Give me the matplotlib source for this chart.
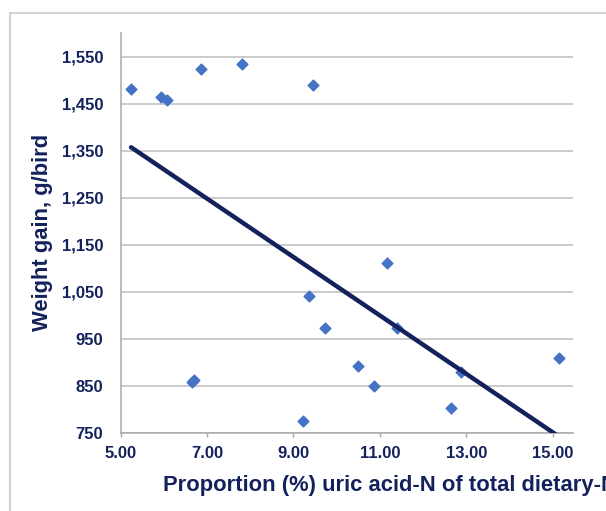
import numpy as np
import matplotlib
matplotlib.use("Agg")
import matplotlib.pyplot as plt
from matplotlib.patches import Rectangle

uric_pct = [5.24, 5.93, 6.08, 6.86, 7.81, 9.46, 11.16, 9.37, 9.73, 11.40,
            10.50, 10.87, 12.88, 12.64, 15.15, 6.64, 6.70, 9.22]
weight_gain = [1481, 1464, 1457, 1523, 1535, 1489, 1110, 1040, 973, 972,
               892, 850, 878, 803, 909, 857, 861, 774]
x_ticks = [5, 7, 9, 11, 13, 15]
y_ticks = [750, 850, 950, 1050, 1150, 1250, 1350, 1450, 1550]

navy = '#13215c'
plt.rcParams['font.family'] = ['Liberation Sans', 'DejaVu Sans']

W, H = 606, 511
fig = plt.figure(figsize=(W/100, H/100), dpi=100)
fig.patches.append(Rectangle((10/W, -0.1), 1.2, 1 - 13/H + 0.1, transform=fig.transFigure,
                             fill=False, edgecolor='#c8c8c8', linewidth=1.2))

ax = fig.add_axes([120.7/W, 1 - 432.5/H, (573 - 120.7)/W, (432.5 - 33)/H])
ax.set_xlim(5, 15.47)
ax.set_ylim(750, 1600)

ax.set_yticks(y_ticks)
ax.set_xticks(x_ticks)
ax.set_yticklabels([f"{v:,}" for v in y_ticks])
ax.set_xticklabels([f"{v:.2f}" for v in x_ticks])
ax.grid(axis='y', color='#bdbdbd', linewidth=1.1)
ax.set_axisbelow(True)
for s in ['top', 'right']:
    ax.spines[s].set_visible(False)
for s in ['left', 'bottom']:
    ax.spines[s].set_color('#a8a8a8')
    ax.spines[s].set_linewidth(1.1)
ax.tick_params(axis='y', length=0, pad=12.5, labelsize=12, labelcolor=navy)
ax.tick_params(axis='x', length=3, width=1, color='#a8a8a8', pad=7, labelsize=12, labelcolor=navy)
for lab in ax.get_xticklabels() + ax.get_yticklabels():
    lab.set_fontweight('bold')

ax.scatter(uric_pct, weight_gain, marker='D', s=30, color='#4472c4', zorder=3, clip_on=False)

coef = np.polyfit(uric_pct, weight_gain, 1)
xl = np.array([min(uric_pct), max(uric_pct)])
ax.plot(xl, np.polyval(coef, xl), color=navy, linewidth=3.2, zorder=4, solid_capstyle='round')

fig.text(163/W, 1 - 486/H, "Proportion (%) uric acid-N of total dietary-N", fontsize=15.8,
         fontweight='bold', color=navy, ha='left', va='center')
fig.text(43/W, 1 - 232/H, "Weight gain, g/bird", fontsize=15.8, fontweight='bold',
         color=navy, rotation=90, ha='center', va='center')

fig.savefig("out.png", dpi=100)
